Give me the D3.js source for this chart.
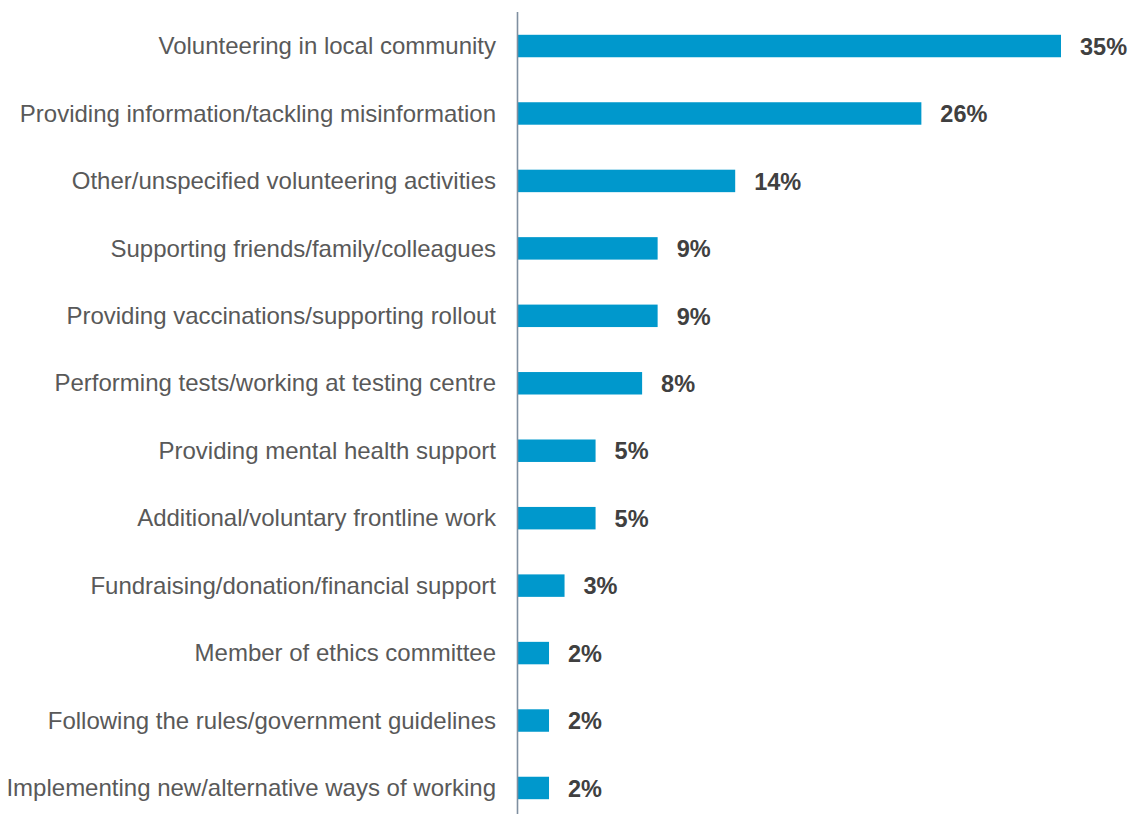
<!DOCTYPE html>
<html>
<head>
<meta charset="utf-8">
<script src="https://cdn.jsdelivr.net/npm/d3@7/dist/d3.min.js"></script>
<style>
  html, body { margin: 0; padding: 0; background: #fff; }
  svg { display: block; }
</style>
</head>
<body>
<svg id="chart" width="1129" height="814"></svg>
<script>
// Volunteering activities, share of respondents (%)
const categories = [
  "Volunteering in local community",
  "Providing information/tackling misinformation",
  "Other/unspecified volunteering activities",
  "Supporting friends/family/colleagues",
  "Providing vaccinations/supporting rollout",
  "Performing tests/working at testing centre",
  "Providing mental health support",
  "Additional/voluntary frontline work",
  "Fundraising/donation/financial support",
  "Member of ethics committee",
  "Following the rules/government guidelines",
  "Implementing new/alternative ways of working"
];
const values = [35, 26, 14, 9, 9, 8, 5, 5, 3, 2, 2, 2];

const rows = categories.map((c, i) => ({ category: c, value: values[i] }));

const svg = d3.select("#chart");
const axisX = 518;

const x = d3.scaleLinear().domain([0, 35]).range([axisX, 1061]);
const y = d3.scaleBand()
  .domain(categories)
  .range([12.3, 821.7])
  .paddingInner(0.667)
  .paddingOuter(0.3335);

// bars
svg.append("g")
  .selectAll("rect")
  .data(rows)
  .join("rect")
  .attr("x", x(0))
  .attr("y", d => y(d.category))
  .attr("width", d => x(d.value) - x(0))
  .attr("height", y.bandwidth())
  .attr("fill", "#0098CC");

// vertical baseline
svg.append("line")
  .attr("x1", axisX - 0.5).attr("x2", axisX - 0.5)
  .attr("y1", 12).attr("y2", 814)
  .attr("stroke", "#7F8FA0")
  .attr("stroke-width", 1.6);

// category labels
svg.append("g")
  .selectAll("text")
  .data(rows)
  .join("text")
  .attr("x", 496)
  .attr("y", d => y(d.category) + y.bandwidth() / 2)
  .attr("dy", "0.34em")
  .attr("text-anchor", "end")
  .attr("font-family", "'Liberation Sans', Arial, sans-serif")
  .attr("font-size", 24)
  .attr("fill", "#595959")
  .text(d => d.category);

// value labels
svg.append("g")
  .selectAll("text")
  .data(rows)
  .join("text")
  .attr("x", d => x(d.value) + 19)
  .attr("y", d => y(d.category) + y.bandwidth() / 2)
  .attr("dy", "0.37em")
  .attr("font-family", "'Liberation Sans', Arial, sans-serif")
  .attr("font-size", 23.5)
  .attr("font-weight", "bold")
  .attr("fill", "#404040")
  .text(d => d.value + "%");
</script>
</body>
</html>
